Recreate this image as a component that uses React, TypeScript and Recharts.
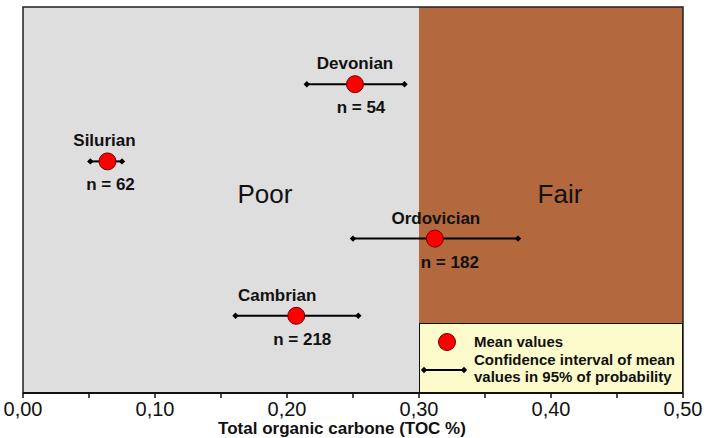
import React from "react";
import {
  ScatterChart,
  Scatter,
  XAxis,
  YAxis,
  ReferenceArea,
  Legend,
  Label,
} from "recharts";

// one row per geological period, top to bottom
const periods = ["Devonian", "Silurian", "Ordovician", "Cambrian"];
const rowLevel = [4, 3, 2, 1];
const meanToc = [0.2515, 0.064, 0.312, 0.207];
const ciLow = [0.215, 0.051, 0.25, 0.161];
const ciHigh = [0.289, 0.075, 0.375, 0.254];
const sampleSize = [54, 62, 182, 218];

const xTicks = [0, 0.05, 0.1, 0.15, 0.2, 0.25, 0.3, 0.35, 0.4, 0.45, 0.5];

const classNames = ["Poor", "Fair"];
const classFrom = [0, 0.3];
const classTo = [0.3, 0.5];

// small text nudges so labels sit like in the source figure
const nameDx = [0, -3, 1, -19];
const countDx = [6, 3, 15, 6];
const classColors = ["#dedede", "#b4683e"];
const classLabelDx = [44, 9];

const FONT = "'Liberation Sans', Arial, sans-serif";

const means = periods.map((name, i) => ({
  x: meanToc[i],
  y: rowLevel[i],
  name,
  n: sampleSize[i],
  i,
}));

const intervals = periods.map((_, i) => [
  { x: ciLow[i], y: rowLevel[i] },
  { x: ciHigh[i], y: rowLevel[i] },
]);

const Diamond = (props: any) => {
  const { cx, cy } = props;
  const s = 3.2;
  return (
    <polygon
      points={`${cx - s},${cy} ${cx},${cy - s} ${cx + s},${cy} ${cx},${cy + s}`}
      fill="#000"
    />
  );
};

const MeanMark = (props: any) => {
  const { cx, cy, payload } = props;
  const i = payload.i;
  return (
    <g fontFamily={FONT} fontWeight="bold" fontSize={17} fill="#111">
      <circle cx={cx} cy={cy} r={8.5} fill="#ff0000" stroke="#6e0000" strokeWidth={1} />
      <text x={cx + nameDx[i]} y={cy - 21} dy="0.35em" textAnchor="middle">
        {payload.name}
      </text>
      <text x={cx + countDx[i]} y={cy + 23} dy="0.35em" textAnchor="middle">
        {`n = ${payload.n}`}
      </text>
    </g>
  );
};

const LegendBox = () => (
  <div
    style={{
      width: 264,
      height: 70,
      boxSizing: "border-box",
      border: "1.5px solid #111",
      background: "#fdfbcb",
    }}
  >
    <svg width={262} height={68} style={{ display: "block" }}>
      <circle cx={27} cy={18} r={8.5} fill="#ff0000" stroke="#6e0000" strokeWidth={1} />
      <line x1={4} y1={46} x2={44} y2={46} stroke="#000" strokeWidth={2} />
      <polygon points="0.8,46 4,42.8 7.2,46 4,49.2" fill="#000" />
      <polygon points="40.8,46 44,42.8 47.2,46 44,49.2" fill="#000" />
      <g fontFamily={FONT} fontWeight="bold" fontSize={15} fill="#111">
        <text x={54} y={18} dy="0.35em">Mean values</text>
        <text x={54} y={36} dy="0.35em">Confidence interval of mean</text>
        <text x={54} y={53} dy="0.35em">values in 95% of probability</text>
      </g>
    </svg>
  </div>
);

const AxisTitle = (props: any) => {
  const { x, y, width } = props.viewBox;
  return (
    <text
      x={x + width / 2 - 11}
      y={y + 41}
      textAnchor="middle"
      fill="#111"
      fontSize={17}
      fontWeight="bold"
      fontFamily={FONT}
    >
      Total organic carbone (TOC %)
    </text>
  );
};

const fmtTick = (v: number) =>
  Math.round(v * 100) % 10 === 0 ? v.toFixed(2).replace(".", ",") : "";

export default function App() {
  return (
    <div style={{ position: "absolute", left: 0, top: 0 }}>
      <ScatterChart
        width={712}
        height={438}
        margin={{ top: 7, right: 29, left: 23, bottom: 0 }}
      >
        <XAxis
          type="number"
          dataKey="x"
          domain={[0, 0.5]}
          ticks={xTicks}
          interval={0}
          tickFormatter={fmtTick}
          tick={{ fill: "#111", fontSize: 20, fontFamily: FONT }}
          tickSize={5}
          tickMargin={4}
          axisLine={{ stroke: "#111", strokeWidth: 2 }}
          tickLine={{ stroke: "#111", strokeWidth: 1.5 }}
          height={45}
        >
          <Label content={<AxisTitle />} />
        </XAxis>
        <YAxis type="number" dataKey="y" domain={[0, 5]} hide />
        {classNames.map((name, k) => (
          <ReferenceArea
            key={name}
            x1={classFrom[k]}
            x2={classTo[k]}
            y1={0}
            y2={5}
            fill={classColors[k]}
            fillOpacity={1}
            stroke="none"
            label={{
              value: name,
              position: "center",
              dx: classLabelDx[k],
              dy: -6,
              fill: "#111",
              fontSize: 26,
              fontFamily: FONT,
            }}
          />
        ))}
        <ReferenceArea
          x1={0}
          x2={0.5}
          y1={0}
          y2={5}
          fill="none"
          stroke="#222"
          strokeWidth={1.5}
        />
        {intervals.map((pts, i) => (
          <Scatter
            key={periods[i]}
            data={pts}
            line={{ stroke: "#000", strokeWidth: 2 }}
            shape={<Diamond />}
            isAnimationActive={false}
          />
        ))}
        <Scatter data={means} shape={<MeanMark />} isAnimationActive={false} />
        <Legend
          verticalAlign="middle"
          align="center"
          content={() => <LegendBox />}
          wrapperStyle={{ left: 419, top: 323, width: 264, height: 70 }}
        />
      </ScatterChart>
    </div>
  );
}
